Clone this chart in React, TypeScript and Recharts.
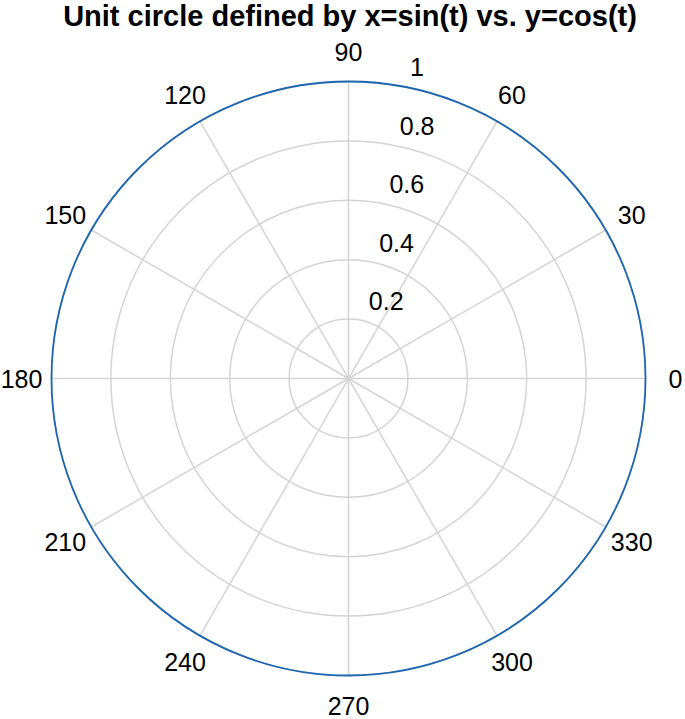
import React from 'react'
import { RadarChart, Radar, PolarGrid, PolarAngleAxis, PolarRadiusAxis } from 'recharts'

// t sampled every 30 degrees, r = |(sin t, cos t)| = 1 everywhere
const angles = ['0', '30', '60', '90', '120', '150', '180', '210', '240', '270', '300', '330']
const radius = [1, 1, 1, 1, 1, 1, 1, 1, 1, 1, 1, 1]
const rTicks = [0.2, 0.4, 0.6, 0.8, 1]

const data = angles.map((a, i) => ({ angle: a, r: radius[i] }))

const FONT = '"Liberation Sans", Arial, Helvetica, sans-serif'

const AngleTick = (props: any) => {
  const { x, y, payload } = props
  return (
    <text x={x} y={y} dy="0.36em" textAnchor="middle" fill="#000" fontSize={25} fontFamily={FONT}>
      {payload.value}
    </text>
  )
}

const RadiusTick = (props: any) => {
  const { x, y, payload } = props
  return (
    <text x={x + 10} y={y - 10} textAnchor="start" fill="#000" fontSize={25} fontFamily={FONT}>
      {String(payload.value)}
    </text>
  )
}

// draw the unit circle through the radius the library computed for r = 1
const CircleShape = (props: any) => {
  const pts = props.points || []
  if (!pts.length) return null
  const p = pts[0]
  return <circle cx={p.cx} cy={p.cy} r={p.radius} fill="none" stroke="#1f66b0" strokeWidth={1.8} />
}

export default function App() {
  return (
    <div style={{ position: 'absolute', left: 0, top: 0, width: 685, height: 719, background: '#fff' }}>
      <div
        style={{
          position: 'absolute', left: 0, top: 2, width: 685, boxSizing: 'border-box', paddingLeft: 15,
          textAlign: 'center', fontFamily: FONT, fontWeight: 'bold', fontSize: 29, lineHeight: '29px',
          color: '#000', whiteSpace: 'nowrap'
        }}
      >
        Unit circle defined by x=sin(t) vs. y=cos(t)
      </div>
      <RadarChart
        width={685}
        height={719}
        cx={348.5}
        cy={378.5}
        outerRadius={297}
        startAngle={30}
        endAngle={390}
        data={data}
        margin={{ top: 0, right: 0, bottom: 0, left: 0 }}
      >
        <PolarGrid gridType="circle" stroke="#d4d4d4" strokeWidth={1.5} />
        <PolarAngleAxis
          dataKey="angle"
          tick={<AngleTick />}
          tickLine={false}
          tickSize={30}
          axisLine={false}
        />
        <PolarRadiusAxis
          type="number"
          domain={[0, 1]}
          ticks={rTicks}
          angle={80}
          tick={<RadiusTick />}
          tickLine={false}
          axisLine={false}
        />
        <Radar
          dataKey="r"
          isAnimationActive={false}
          fill="none"
          stroke="#1f66b0"
          shape={<CircleShape />}
        />
      </RadarChart>
    </div>
  )
}
